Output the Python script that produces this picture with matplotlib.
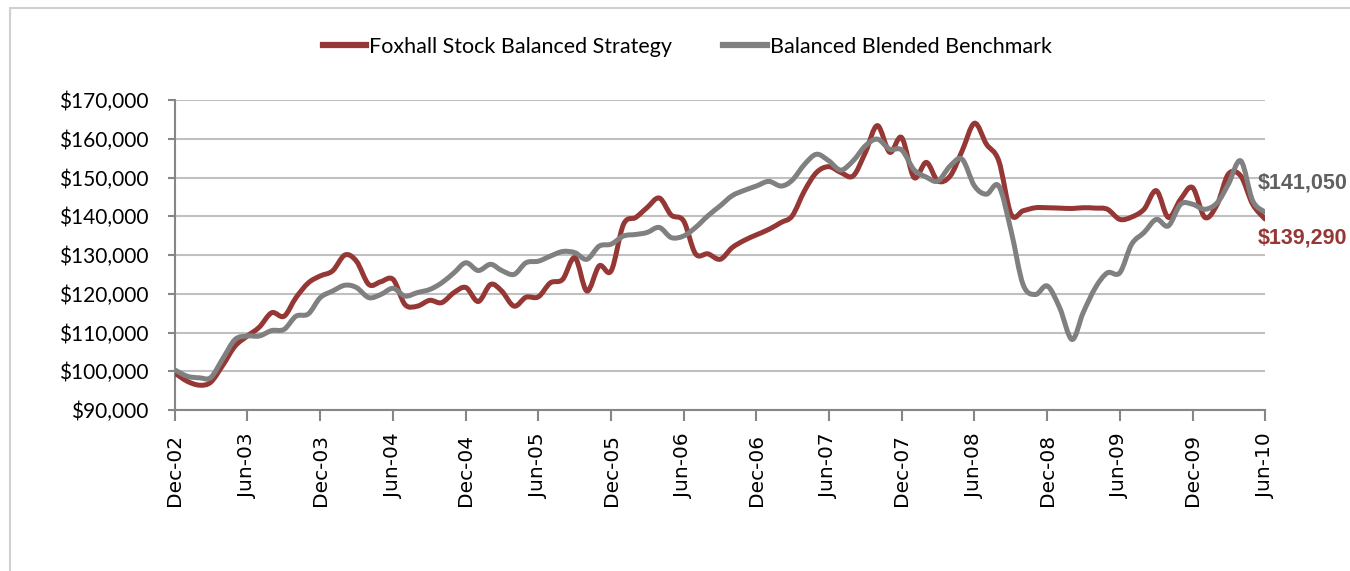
import numpy as np
import pandas as pd
import matplotlib.pyplot as plt
import matplotlib.dates as mdates
from matplotlib.patches import Rectangle, PathPatch
from matplotlib.path import Path
from matplotlib.lines import Line2D

# monthly values in $ thousands, Dec-02 .. Jun-10
strategy = [99.5, 97.4, 96.4, 97.2, 101.7, 106.5, 109.1, 111.4, 115.1, 114.2,
            119.0, 122.8, 124.6, 125.9, 130.0, 128.4, 122.4, 123.1, 123.7, 117.2,
            116.8, 118.3, 117.7, 120.3, 121.6, 118.0, 122.4, 120.7, 116.8, 119.1,
            119.2, 122.8, 123.7, 129.3, 120.7, 127.2, 125.9, 137.9, 139.7, 142.2,
            144.7, 140.3, 138.8, 130.3, 130.3, 128.9, 131.9, 133.8, 135.2, 136.6,
            138.4, 140.1, 146.6, 151.3, 152.8, 151.3, 150.4, 156.5, 163.4, 156.5,
            160.3, 150.0, 153.9, 149.1, 150.4, 156.9, 164.0, 158.6, 154.3, 140.5,
            141.4, 142.2, 142.2, 142.1, 142.0, 142.2, 142.1, 141.8, 139.2, 139.8,
            141.8, 146.6, 139.7, 144.4, 147.4, 139.7, 143.1, 150.9, 150.4, 143.1,
            139.29]
benchmark = [100.3, 98.7, 98.3, 98.4, 103.4, 108.2, 109.1, 109.1, 110.5, 110.8,
             114.2, 114.8, 119.0, 120.7, 122.2, 121.6, 119.0, 119.8, 121.4, 119.4,
             120.3, 121.1, 122.8, 125.4, 128.0, 126.0, 127.6, 126.0, 125.0, 128.0,
             128.4, 129.7, 130.9, 130.6, 128.9, 132.3, 132.8, 134.9, 135.3, 135.8,
             137.1, 134.5, 134.9, 137.1, 140.1, 142.7, 145.3, 146.7, 147.8, 149.0,
             147.8, 149.3, 153.4, 156.0, 154.3, 151.9, 154.3, 158.2, 159.9, 157.3,
             157.1, 152.0, 150.1, 149.1, 153.0, 154.7, 147.8, 145.7, 147.8, 136.2,
             122.4, 119.8, 122.0, 116.4, 108.2, 115.1, 121.6, 125.4, 125.4, 132.8,
             135.8, 139.2, 137.5, 143.1, 143.1, 141.8, 143.5, 148.3, 154.3, 144.0,
             141.05]
dates = pd.date_range('2002-12-01', periods=len(strategy), freq='MS')
labels = ['Foxhall Stock Balanced Strategy', 'Balanced Blended Benchmark']

red = '#953735'
grey = '#808080'


def smooth_path(x, y):
    # Excel-style smoothed line: cubic Bezier segments through every point
    x = np.asarray(x, float)
    y = np.asarray(y, float)
    px = np.concatenate([[x[0]], x, [x[-1]]])
    py = np.concatenate([[y[0]], y, [y[-1]]])
    verts = [(x[0], y[0])]
    codes = [Path.MOVETO]
    for i in range(1, len(x)):
        c1 = (px[i] + (px[i + 1] - px[i - 1]) / 6, py[i] + (py[i + 1] - py[i - 1]) / 6)
        c2 = (px[i + 1] - (px[i + 2] - px[i]) / 6, py[i + 1] - (py[i + 2] - py[i]) / 6)
        verts += [c1, c2, (x[i], y[i])]
        codes += [Path.CURVE4] * 3
    return Path(verts, codes)


xnum = mdates.date2num(dates)
strategy_usd = [v * 1000 for v in strategy]
benchmark_usd = [v * 1000 for v in benchmark]

fig = plt.figure(figsize=(13.5, 5.71), dpi=100)
ax = fig.add_axes([175 / 1350, 1 - 410 / 571, 1090 / 1350, 310 / 571])

for vals, col in [(strategy_usd, red), (benchmark_usd, grey)]:
    ax.add_patch(PathPatch(smooth_path(xnum, vals), fill=False, edgecolor=col,
                           lw=3.6, joinstyle='round', capstyle='round', zorder=3))

ax.set_xlim(dates[0], dates[-1])
ax.set_ylim(90000, 170000)
ax.set_yticks(range(90000, 170001, 10000))
ax.set_yticklabels(['${:,}'.format(v) for v in range(90000, 170001, 10000)],
                   fontsize=15, family='Lato')
ax.yaxis.grid(True, color='#c0c0c0', lw=1.5)
ax.set_axisbelow(True)

ax.xaxis.set_major_locator(mdates.MonthLocator(bymonth=[6, 12]))
ax.xaxis.set_major_formatter(mdates.DateFormatter('%b-%y'))
for t in ax.get_xticklabels():
    t.set_rotation(90)
    t.set_fontsize(14.5)
    t.set_family('DejaVu Sans')

for s in ['top', 'right']:
    ax.spines[s].set_visible(False)
for s in ['left', 'bottom']:
    ax.spines[s].set_color('#868686')
    ax.spines[s].set_linewidth(1.5)
ax.tick_params(axis='x', length=8, width=1.5, color='#868686', pad=9)
ax.tick_params(axis='y', length=5, width=1.5, color='#868686', pad=14)

# end-value labels
ax.annotate('$141,050', xy=(dates[-1], benchmark_usd[-1]), xytext=(-5, 21),
            textcoords='offset points', color='#606060', fontsize=15.5,
            fontweight='bold', family='Liberation Sans', va='center',
            annotation_clip=False)
ax.annotate('$139,290', xy=(dates[-1], strategy_usd[-1]), xytext=(-5, -13.5),
            textcoords='offset points', color=red, fontsize=15.5,
            fontweight='bold', family='Liberation Sans', va='center',
            annotation_clip=False)

handles = [Line2D([], [], color=red, lw=4.5), Line2D([], [], color=grey, lw=4.5)]
fig.legend(handles, labels, loc='center', bbox_to_anchor=(0.509, 1 - 47 / 571),
           ncol=2, frameon=False, prop={'family': 'Lato', 'size': 15.5},
           handlelength=2.0, handletextpad=0.15, columnspacing=2.4)

# outer chart frame
fig.patches.append(Rectangle((10 / 1350, -0.1), 1.2, 1.1 - 8 / 571,
                             transform=fig.transFigure, fill=False,
                             edgecolor='#d0d0d0', lw=1.5))

fig.savefig('out.png', dpi=100)
